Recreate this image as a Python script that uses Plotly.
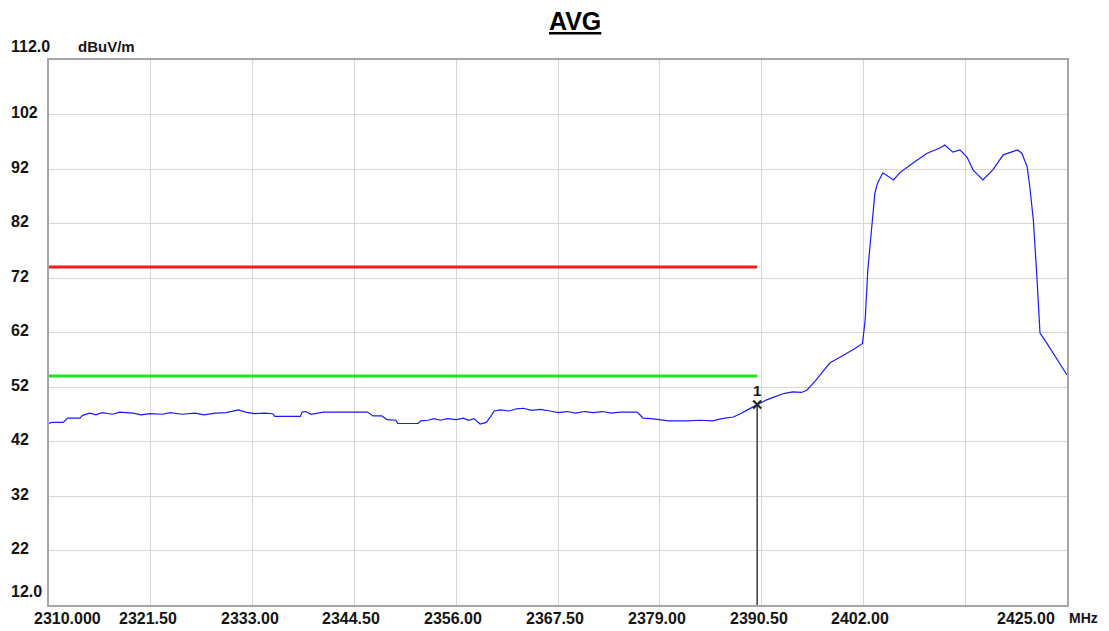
import plotly.graph_objects as go

# ---- data ----
freq_mhz = [
    2310.00, 2310.30, 2311.60, 2312.10, 2313.50, 2313.80, 2314.60, 2315.30, 2316.00, 2317.20,
    2318.00, 2319.50, 2320.40, 2321.40, 2322.80, 2323.70, 2325.00, 2326.50, 2327.50, 2328.80,
    2330.00, 2331.00, 2331.40, 2332.20, 2333.20, 2334.40, 2335.30, 2335.50, 2337.00, 2338.40,
    2338.60, 2339.00, 2339.60, 2340.50, 2341.00, 2346.00, 2346.60, 2347.60, 2348.20, 2349.20,
    2349.40, 2351.70, 2352.00, 2352.80, 2353.50, 2354.20, 2355.00, 2356.00, 2356.80, 2357.40,
    2358.00, 2358.70, 2359.40, 2359.90, 2360.30, 2361.00, 2362.00, 2362.80, 2363.60, 2364.50,
    2365.50, 2366.60, 2367.50, 2368.50, 2369.50, 2370.50, 2371.50, 2372.50, 2373.50, 2374.50,
    2376.40, 2376.70, 2377.10, 2378.00, 2379.00, 2380.00, 2382.00, 2383.50, 2385.00, 2386.00,
    2387.30, 2388.00, 2388.90, 2390.00, 2391.00, 2391.80, 2393.00, 2394.00, 2395.00, 2395.60,
    2396.50, 2397.50, 2398.20, 2399.50, 2401.00, 2401.90, 2402.00, 2402.20, 2402.50, 2403.00,
    2403.30, 2403.60, 2404.20, 2405.40, 2406.10, 2407.60, 2409.20, 2410.70, 2411.20, 2412.10,
    2412.90, 2413.70, 2414.40, 2415.50, 2416.60, 2417.80, 2419.40, 2419.90, 2420.50, 2420.80,
    2421.20, 2421.60, 2421.95, 2422.70, 2423.90, 2425.00,
]
level_dbuv = [
    45.3, 45.5, 45.5, 46.3, 46.3, 46.8, 47.2, 46.9, 47.3, 47.0,
    47.4, 47.2, 46.9, 47.1, 47.0, 47.3, 47.0, 47.2, 46.9, 47.2,
    47.3, 47.6, 47.8, 47.4, 47.1, 47.2, 47.1, 46.6, 46.6, 46.6,
    47.4, 47.5, 47.0, 47.2, 47.4, 47.4, 46.7, 46.7, 46.0, 45.9,
    45.3, 45.3, 45.8, 45.9, 46.2, 45.9, 46.2, 46.0, 46.3, 45.9,
    46.2, 45.2, 45.5, 46.6, 47.6, 47.8, 47.6, 48.0, 48.1, 47.7,
    47.9, 47.6, 47.3, 47.5, 47.2, 47.5, 47.3, 47.5, 47.2, 47.4,
    47.4, 47.0, 46.3, 46.2, 46.0, 45.8, 45.8, 45.9, 45.8, 46.2,
    46.5, 47.0, 47.8, 48.8, 49.6, 50.1, 50.8, 51.1, 51.0, 51.4,
    53.0, 55.0, 56.4, 57.6, 59.0, 60.0, 62.0, 64.3, 73.5, 82.6,
    87.6, 89.4, 91.3, 90.0, 91.3, 93.1, 94.9, 95.9, 96.4, 95.1,
    95.5, 94.2, 91.8, 90.0, 91.8, 94.6, 95.5, 94.9, 92.4, 88.7,
    82.6, 72.2, 61.9, 60.1, 57.0, 54.2,
]
limit_freq = [2310.0, 2390.0]
limit_peak = [74.0, 74.0]
limit_avg = [54.0, 54.0]
marker_freq = 2390.0
marker_level = 48.8
marker_label = "1"

x_ticks = [2310.0, 2321.5, 2333.0, 2344.5, 2356.0, 2367.5, 2379.0, 2390.5, 2402.0, 2413.5, 2425.0]
x_labels = ["2310.000", "2321.50", "2333.00", "2344.50", "2356.00", "2367.50",
            "2379.00", "2390.50", "2402.00", "", "2425.00"]
y_ticks = [12, 22, 32, 42, 52, 62, 72, 82, 92, 102, 112]
y_labels = ["12.0", "22", "32", "42", "52", "62", "72", "82", "92", "102", "112.0"]
x_unit = "MHz"
y_unit = "dBuV/m"
title = "AVG"

FONT = "Liberation Sans, Arial, sans-serif"
TXT = "#141414"
OFF = 8  # page body margin in the browser

fig = go.Figure()
fig.add_trace(go.Scatter(x=limit_freq, y=limit_peak, mode="lines",
                         line=dict(color="#f21a1a", width=3), hoverinfo="skip"))
fig.add_trace(go.Scatter(x=limit_freq, y=limit_avg, mode="lines",
                         line=dict(color="#1ee61e", width=3), hoverinfo="skip"))
fig.add_trace(go.Scatter(x=[marker_freq, marker_freq], y=[y_ticks[0], marker_level], mode="lines",
                         line=dict(color="#3a3a3a", width=1.5), hoverinfo="skip"))
fig.add_trace(go.Scatter(x=freq_mhz, y=level_dbuv, mode="lines",
                         line=dict(color="#1a1aff", width=1.2)))
fig.add_trace(go.Scatter(x=[marker_freq], y=[marker_level], mode="markers",
                         marker=dict(symbol="x-thin", size=8, line=dict(color="#202020", width=2))))

ann = []
# y labels (left aligned)
for v, t in zip(y_ticks, y_labels):
    shift = 14 if v in (y_ticks[0], y_ticks[-1]) else 2
    ann.append(dict(xref="paper", x=(9 - 49) / 1018, xanchor="left", yref="y", y=v,
                    yanchor="middle", yshift=shift, text="<b>%s</b>" % t, showarrow=False,
                    font=dict(family=FONT, size=16, color=TXT)))
ann.append(dict(xref="paper", x=(76 - 49) / 1018, xanchor="left", yref="y", y=y_ticks[-1],
                yanchor="middle", yshift=14, text="<b>%s</b>" % y_unit, showarrow=False,
                font=dict(family=FONT, size=15, color=TXT)))
# x labels
for i, (f, t) in enumerate(zip(x_ticks, x_labels)):
    if not t:
        continue
    if i == 0:
        xa, xs = "left", -17
    elif i == len(x_ticks) - 1:
        xa, xs = "right", -10
    else:
        xa, xs = "center", -3
    ann.append(dict(xref="x", x=f, xanchor=xa, xshift=xs, yref="paper", y=0, yanchor="middle",
                    yshift=-13, text="<b>%s</b>" % t, showarrow=False,
                    font=dict(family=FONT, size=16, color=TXT)))
ann.append(dict(xref="x", x=x_ticks[-1], xanchor="left", xshift=0, yref="paper", y=0,
                yanchor="middle", yshift=-13, text="<b>%s</b>" % x_unit, showarrow=False,
                font=dict(family=FONT, size=14, color=TXT)))
# marker label
ann.append(dict(xref="x", x=marker_freq, yref="y", y=marker_level, yshift=14, xanchor="center",
                yanchor="middle", text="<b>%s</b>" % marker_label, showarrow=False,
                font=dict(family=FONT, size=15, color=TXT)))
# title
ann.append(dict(xref="paper", x=(574.5 - 49) / 1018, yref="paper", y=(605 - 21) / 545,
                xanchor="center", yanchor="middle", text="<b><u>%s</u></b>" % title,
                showarrow=False, font=dict(family=FONT, size=25, color="#000000")))

fig.update_layout(
    width=1109 - OFF, height=631 - OFF,
    margin=dict(l=49 - OFF, r=42, t=60 - OFF, b=26, pad=0),
    paper_bgcolor="white", plot_bgcolor="white",
    showlegend=False,
    annotations=ann,
    xaxis=dict(range=[x_ticks[0], x_ticks[-1]], tickvals=x_ticks, showticklabels=False,
               showgrid=True, gridcolor="#d6d6d6", gridwidth=1, zeroline=False,
               showline=True, mirror=True, linecolor="#a6a6a6", linewidth=2, ticks=""),
    yaxis=dict(range=[y_ticks[0], y_ticks[-1]], tickvals=y_ticks, showticklabels=False,
               showgrid=True, gridcolor="#d6d6d6", gridwidth=1, zeroline=False,
               showline=True, mirror=True, linecolor="#a6a6a6", linewidth=2, ticks=""),
)

fig.write_html("out.html")
